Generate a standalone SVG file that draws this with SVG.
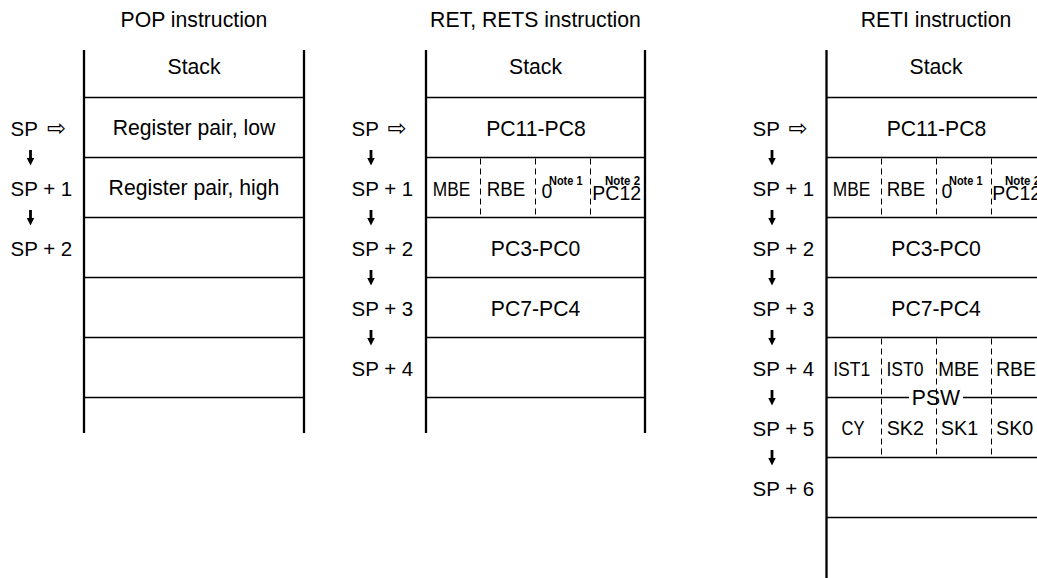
<svg xmlns="http://www.w3.org/2000/svg" width="1037" height="578" viewBox="0 0 1037 578">
  <defs>
    <!-- filled head for the downward "next address" arrows -->
    <marker id="head" viewBox="0 0 8 8" markerWidth="8" markerHeight="8" refX="1" refY="4" orient="auto" markerUnits="userSpaceOnUse">
      <path d="M0,0 L8,4 L0,8 z" fill="#000"/>
    </marker>
  </defs>
  <style>
    text { font-family: "Liberation Sans", Arial, Helvetica, sans-serif; fill: #000; }
    .t { font-size: 21.2px; text-anchor: middle; }
    .lbl { font-size: 20.5px; }
    .c { font-size: 20px; text-anchor: middle; }
    .s { font-size: 19.5px; }
    .note { font-size: 12.5px; font-weight: bold; }
    .sym { font-family: "DejaVu Sans", sans-serif; font-size: 23px; }
    .wall { stroke: #000; stroke-width: 2.3; fill: none; }
    .rule { stroke: #000; stroke-width: 1.3; fill: none; }
    .dash { stroke: #000; stroke-width: 1; stroke-dasharray: 6 4; fill: none; }
    .step { stroke: #000; stroke-width: 2.8; fill: none; marker-end: url(#head); }
  </style>
  <rect width="1037" height="578" fill="#fff"/>

  <!-- POP instruction stack -->
  <g id="pop-stack">
    <text class="t" x="194" y="27">POP instruction</text>
    <path class="wall" d="M84,50V433M304,50V433"/>
    <path class="rule" d="M84,97.5H304M84,157.5H304M84,217.5H304M84,277.5H304M84,337.5H304M84,397.5H304"/>
    <text class="t" x="194" y="74">Stack</text>
    <g id="pop-row0"><text class="t" x="194" y="135">Register pair, low</text></g>
    <g id="pop-row1"><text class="t" x="194" y="195">Register pair, high</text></g>
    <g id="pop-labels">
      <text class="lbl" x="10.5" y="135.5">SP<tspan class="sym" x="47">⇨</tspan></text>
      <text class="lbl" x="10.5" y="195.5">SP + 1</text>
      <text class="lbl" x="10.5" y="255.5">SP + 2</text>
    </g>
  </g>

  <!-- RET, RETS instruction stack -->
  <g id="ret-stack">
    <text class="t" x="535.5" y="27">RET, RETS instruction</text>
    <path class="wall" d="M426,50V433M645,50V433"/>
    <path class="rule" d="M426,97.5H645M426,157.5H645M426,217.5H645M426,277.5H645M426,337.5H645M426,397.5H645"/>
    <text class="t" x="535.5" y="74">Stack</text>
    <g id="ret-row0"><text class="t" x="536" y="135.5">PC11-PC8</text></g>
    <g id="ret-row1">
      <path class="dash" d="M480.5,158.5V216.5M535.5,158.5V216.5M590.5,158.5V216.5"/>
      <text class="c" x="451.5" y="196" textLength="37.5" lengthAdjust="spacingAndGlyphs">MBE</text>
      <text class="c" x="506" y="196" textLength="38.5" lengthAdjust="spacingAndGlyphs">RBE</text>
      <text class="s" x="541.5" y="198">0</text>
      <text class="note" x="549" y="184.5" textLength="33.5" lengthAdjust="spacingAndGlyphs">Note 1</text>
      <text class="s" x="592.3" y="199.5">PC12</text>
      <text class="note" x="605" y="184.5" textLength="35" lengthAdjust="spacingAndGlyphs">Note 2</text>
    </g>
    <g id="ret-row2"><text class="t" x="535.5" y="255.5">PC3-PC0</text></g>
    <g id="ret-row3"><text class="t" x="535.5" y="315.5">PC7-PC4</text></g>
    <g id="ret-labels">
      <text class="lbl" x="351.5" y="135.5">SP<tspan class="sym" x="387.5">⇨</tspan></text>
      <text class="lbl" x="351.5" y="195.5">SP + 1</text>
      <text class="lbl" x="351.5" y="255.5">SP + 2</text>
      <text class="lbl" x="351.5" y="315.5">SP + 3</text>
      <text class="lbl" x="351.5" y="375.5">SP + 4</text>
    </g>
  </g>

  <!-- RETI instruction stack -->
  <g id="reti-stack">
    <text class="t" x="936" y="27">RETI instruction</text>
    <path class="wall" d="M826.5,50V578M1046,50V578"/>
    <path class="rule" d="M826.5,97.5H1046M826.5,157.5H1046M826.5,217.5H1046M826.5,277.5H1046M826.5,337.5H1046M826.5,457.5H1046M826.5,517.5H1046"/>
    <text class="t" x="936" y="74">Stack</text>
    <g id="reti-row0"><text class="t" x="936.5" y="135.5">PC11-PC8</text></g>
    <g id="reti-row1">
      <path class="dash" d="M881.5,158.5V216.5M936.5,158.5V216.5M991.5,158.5V216.5"/>
      <text class="c" x="851.5" y="196" textLength="37.5" lengthAdjust="spacingAndGlyphs">MBE</text>
      <text class="c" x="906" y="196" textLength="38.5" lengthAdjust="spacingAndGlyphs">RBE</text>
      <text class="s" x="941.5" y="198">0</text>
      <text class="note" x="949" y="184.5" textLength="33.5" lengthAdjust="spacingAndGlyphs">Note 1</text>
      <text class="s" x="992.3" y="199.5">PC12</text>
      <text class="note" x="1005" y="184.5" textLength="35" lengthAdjust="spacingAndGlyphs">Note 2</text>
    </g>
    <g id="reti-row2"><text class="t" x="936" y="255.5">PC3-PC0</text></g>
    <g id="reti-row3"><text class="t" x="936" y="315.5">PC7-PC4</text></g>
    <g id="reti-psw">
      <path class="dash" d="M881.5,338.5V456.5M936.5,338.5V456.5M991.5,338.5V456.5"/>
      <path class="rule" d="M826.5,397.5H909M963,397.5H1046"/>
      <text class="t" x="936" y="405">PSW</text>
      <text class="c" x="851.7" y="375.5" textLength="37" lengthAdjust="spacingAndGlyphs">IST1</text>
      <text class="c" x="905" y="375.5" textLength="37" lengthAdjust="spacingAndGlyphs">IST0</text>
      <text class="c" x="958.7" y="375.5" textLength="41" lengthAdjust="spacingAndGlyphs">MBE</text>
      <text class="c" x="1016" y="375.5" textLength="40" lengthAdjust="spacingAndGlyphs">RBE</text>
      <text class="c" x="853" y="434.5" textLength="23" lengthAdjust="spacingAndGlyphs">CY</text>
      <text class="c" x="905.3" y="434.5" textLength="37.3" lengthAdjust="spacingAndGlyphs">SK2</text>
      <text class="c" x="959.5" y="434.5" textLength="37.5" lengthAdjust="spacingAndGlyphs">SK1</text>
      <text class="c" x="1014.7" y="434.5" textLength="37.3" lengthAdjust="spacingAndGlyphs">SK0</text>
    </g>
    <g id="reti-labels">
      <text class="lbl" x="752.5" y="135.5">SP<tspan class="sym" x="788.5">⇨</tspan></text>
      <text class="lbl" x="752.5" y="195.5">SP + 1</text>
      <text class="lbl" x="752.5" y="255.5">SP + 2</text>
      <text class="lbl" x="752.5" y="315.5">SP + 3</text>
      <text class="lbl" x="752.5" y="375.5">SP + 4</text>
      <text class="lbl" x="752.5" y="435.5">SP + 5</text>
      <text class="lbl" x="752.5" y="495.5">SP + 6</text>
    </g>
  </g>

  <!-- downward arrows from one stack address to the next -->
  <g id="connectors">
    <path class="step" d="M30.5,150V158.5"/>
    <path class="step" d="M30.5,210V218.5"/>
    <path class="step" d="M371,150V158.5"/>
    <path class="step" d="M371,210V218.5"/>
    <path class="step" d="M371,270V278.5"/>
    <path class="step" d="M371,330V338.5"/>
    <path class="step" d="M772,150V158.5"/>
    <path class="step" d="M772,210V218.5"/>
    <path class="step" d="M772,270V278.5"/>
    <path class="step" d="M772,330V338.5"/>
    <path class="step" d="M772,390V398.5"/>
    <path class="step" d="M772,450V458.5"/>
  </g>
</svg>
